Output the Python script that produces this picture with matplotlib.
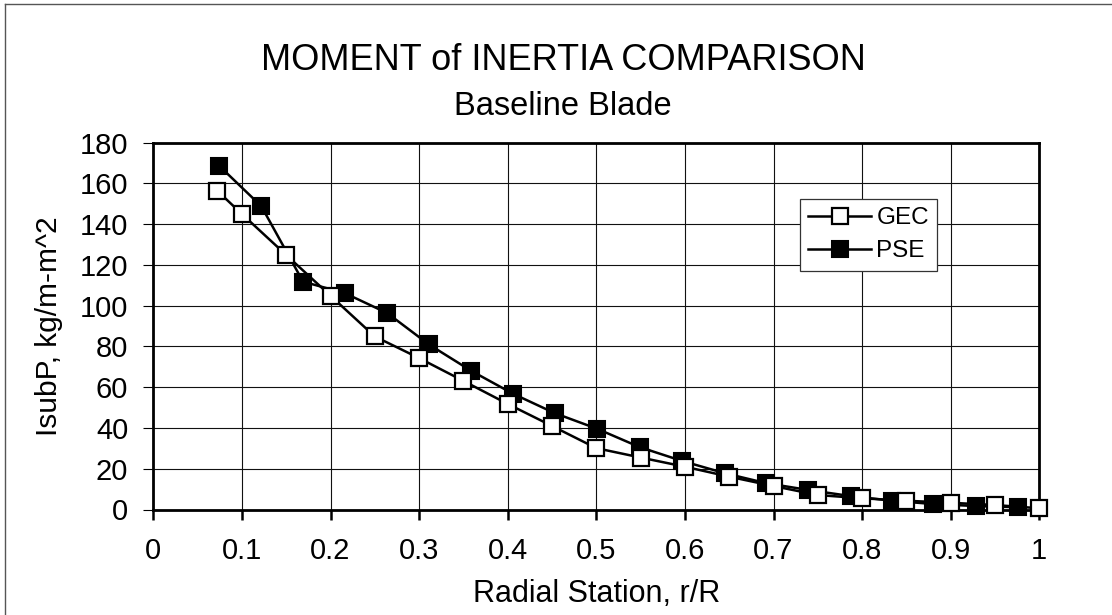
import matplotlib
matplotlib.use("Agg")
import matplotlib.pyplot as plt
from matplotlib.lines import Line2D

plt.rcParams['font.family'] = ['Liberation Sans', 'DejaVu Sans']

# values
gec_x = [0.072, 0.1, 0.15, 0.2, 0.25, 0.3, 0.35, 0.4, 0.45, 0.5,
         0.55, 0.6, 0.65, 0.7, 0.75, 0.8, 0.85, 0.9, 0.95, 1.0]
gec_y = [156.5, 145.0, 124.9, 104.9, 84.9, 74.3, 63.1, 51.8, 41.0, 30.1,
         25.5, 21.0, 16.1, 11.5, 7.1, 5.5, 4.3, 3.3, 2.2, 0.6]

pse_x = [0.074, 0.122, 0.169, 0.216, 0.264, 0.311, 0.359, 0.406, 0.453, 0.501,
         0.549, 0.597, 0.645, 0.692, 0.739, 0.787, 0.834, 0.880, 0.928, 0.976]
pse_y = [168.8, 148.8, 111.8, 106.2, 96.4, 81.0, 68.0, 56.8, 47.3, 39.6,
         30.6, 23.8, 17.8, 12.9, 9.6, 6.6, 4.3, 2.7, 1.7, 1.1]

x_ticks = [0, 0.1, 0.2, 0.3, 0.4, 0.5, 0.6, 0.7, 0.8, 0.9, 1]
x_tick_labels = ['0', '0.1', '0.2', '0.3', '0.4', '0.5', '0.6', '0.7', '0.8', '0.9', '1']
y_ticks = [0, 20, 40, 60, 80, 100, 120, 140, 160, 180]

W, H = 1112, 615
fig = plt.figure(figsize=(W / 100, H / 100), dpi=100)
ax = fig.add_axes([153.3 / W, 1 - 509.5 / H, 886 / W, 366.8 / H])

# PSE first so GEC open squares sit on top where they overlap
ax.plot(pse_x, pse_y, color='black', lw=1.8, marker='s', ms=11,
        mfc='black', mec='black', mew=1.5, label='PSE', zorder=3, clip_on=False)
ax.plot(gec_x, gec_y, color='black', lw=1.8, marker='s', ms=11,
        mfc='white', mec='black', mew=1.6, label='GEC', zorder=4, clip_on=False)

ax.set_xlim(0, 1)
ax.set_ylim(0, 180)
ax.set_xticks(x_ticks)
ax.set_xticklabels(x_tick_labels)
ax.set_yticks(y_ticks)
ax.grid(True, color='#111111', lw=0.8)
ax.set_axisbelow(True)

for s in ax.spines.values():
    s.set_linewidth(2.0)
    s.set_color('black')

ax.tick_params(axis='x', direction='out', length=7, width=1.8, labelsize=21, pad=13)
ax.tick_params(axis='y', direction='out', length=7, width=0.8, labelsize=21, pad=11)

ax.set_xlabel('Radial Station, r/R', fontsize=22, labelpad=10)
ax.set_ylabel('IsubP, kg/m-m^2', fontsize=21.5, labelpad=12)

handles, labels = ax.get_legend_handles_labels()
leg = ax.legend(handles[::-1], labels[::-1], loc='upper left',
                bbox_to_anchor=(0.7296, 0.847), borderaxespad=0,
                fontsize=17.5, handlelength=2.6, handletextpad=0.2,
                fancybox=False, framealpha=1, edgecolor='#333333',
                borderpad=0.35, labelspacing=0.45)
leg.get_frame().set_linewidth(0.9)
leg.set_zorder(10)

# title block is centred on the whole chart area, not the plot area
fig.text(563 / W, 1 - 70 / H, 'MOMENT of INERTIA COMPARISON', fontsize=26,
         ha='center', va='baseline')
fig.text(563 / W, 1 - 115 / H, 'Baseline Blade', fontsize=23.5,
         ha='center', va='baseline')

# thin chart-area border along the left and top edges
fig.add_artist(Line2D([5 / W, 5 / W], [0, 1 - 4 / H], color='#555555', lw=1.0))
fig.add_artist(Line2D([5 / W, 1], [1 - 4 / H, 1 - 4 / H], color='#555555', lw=1.0))

fig.savefig('out.png', dpi=100)
